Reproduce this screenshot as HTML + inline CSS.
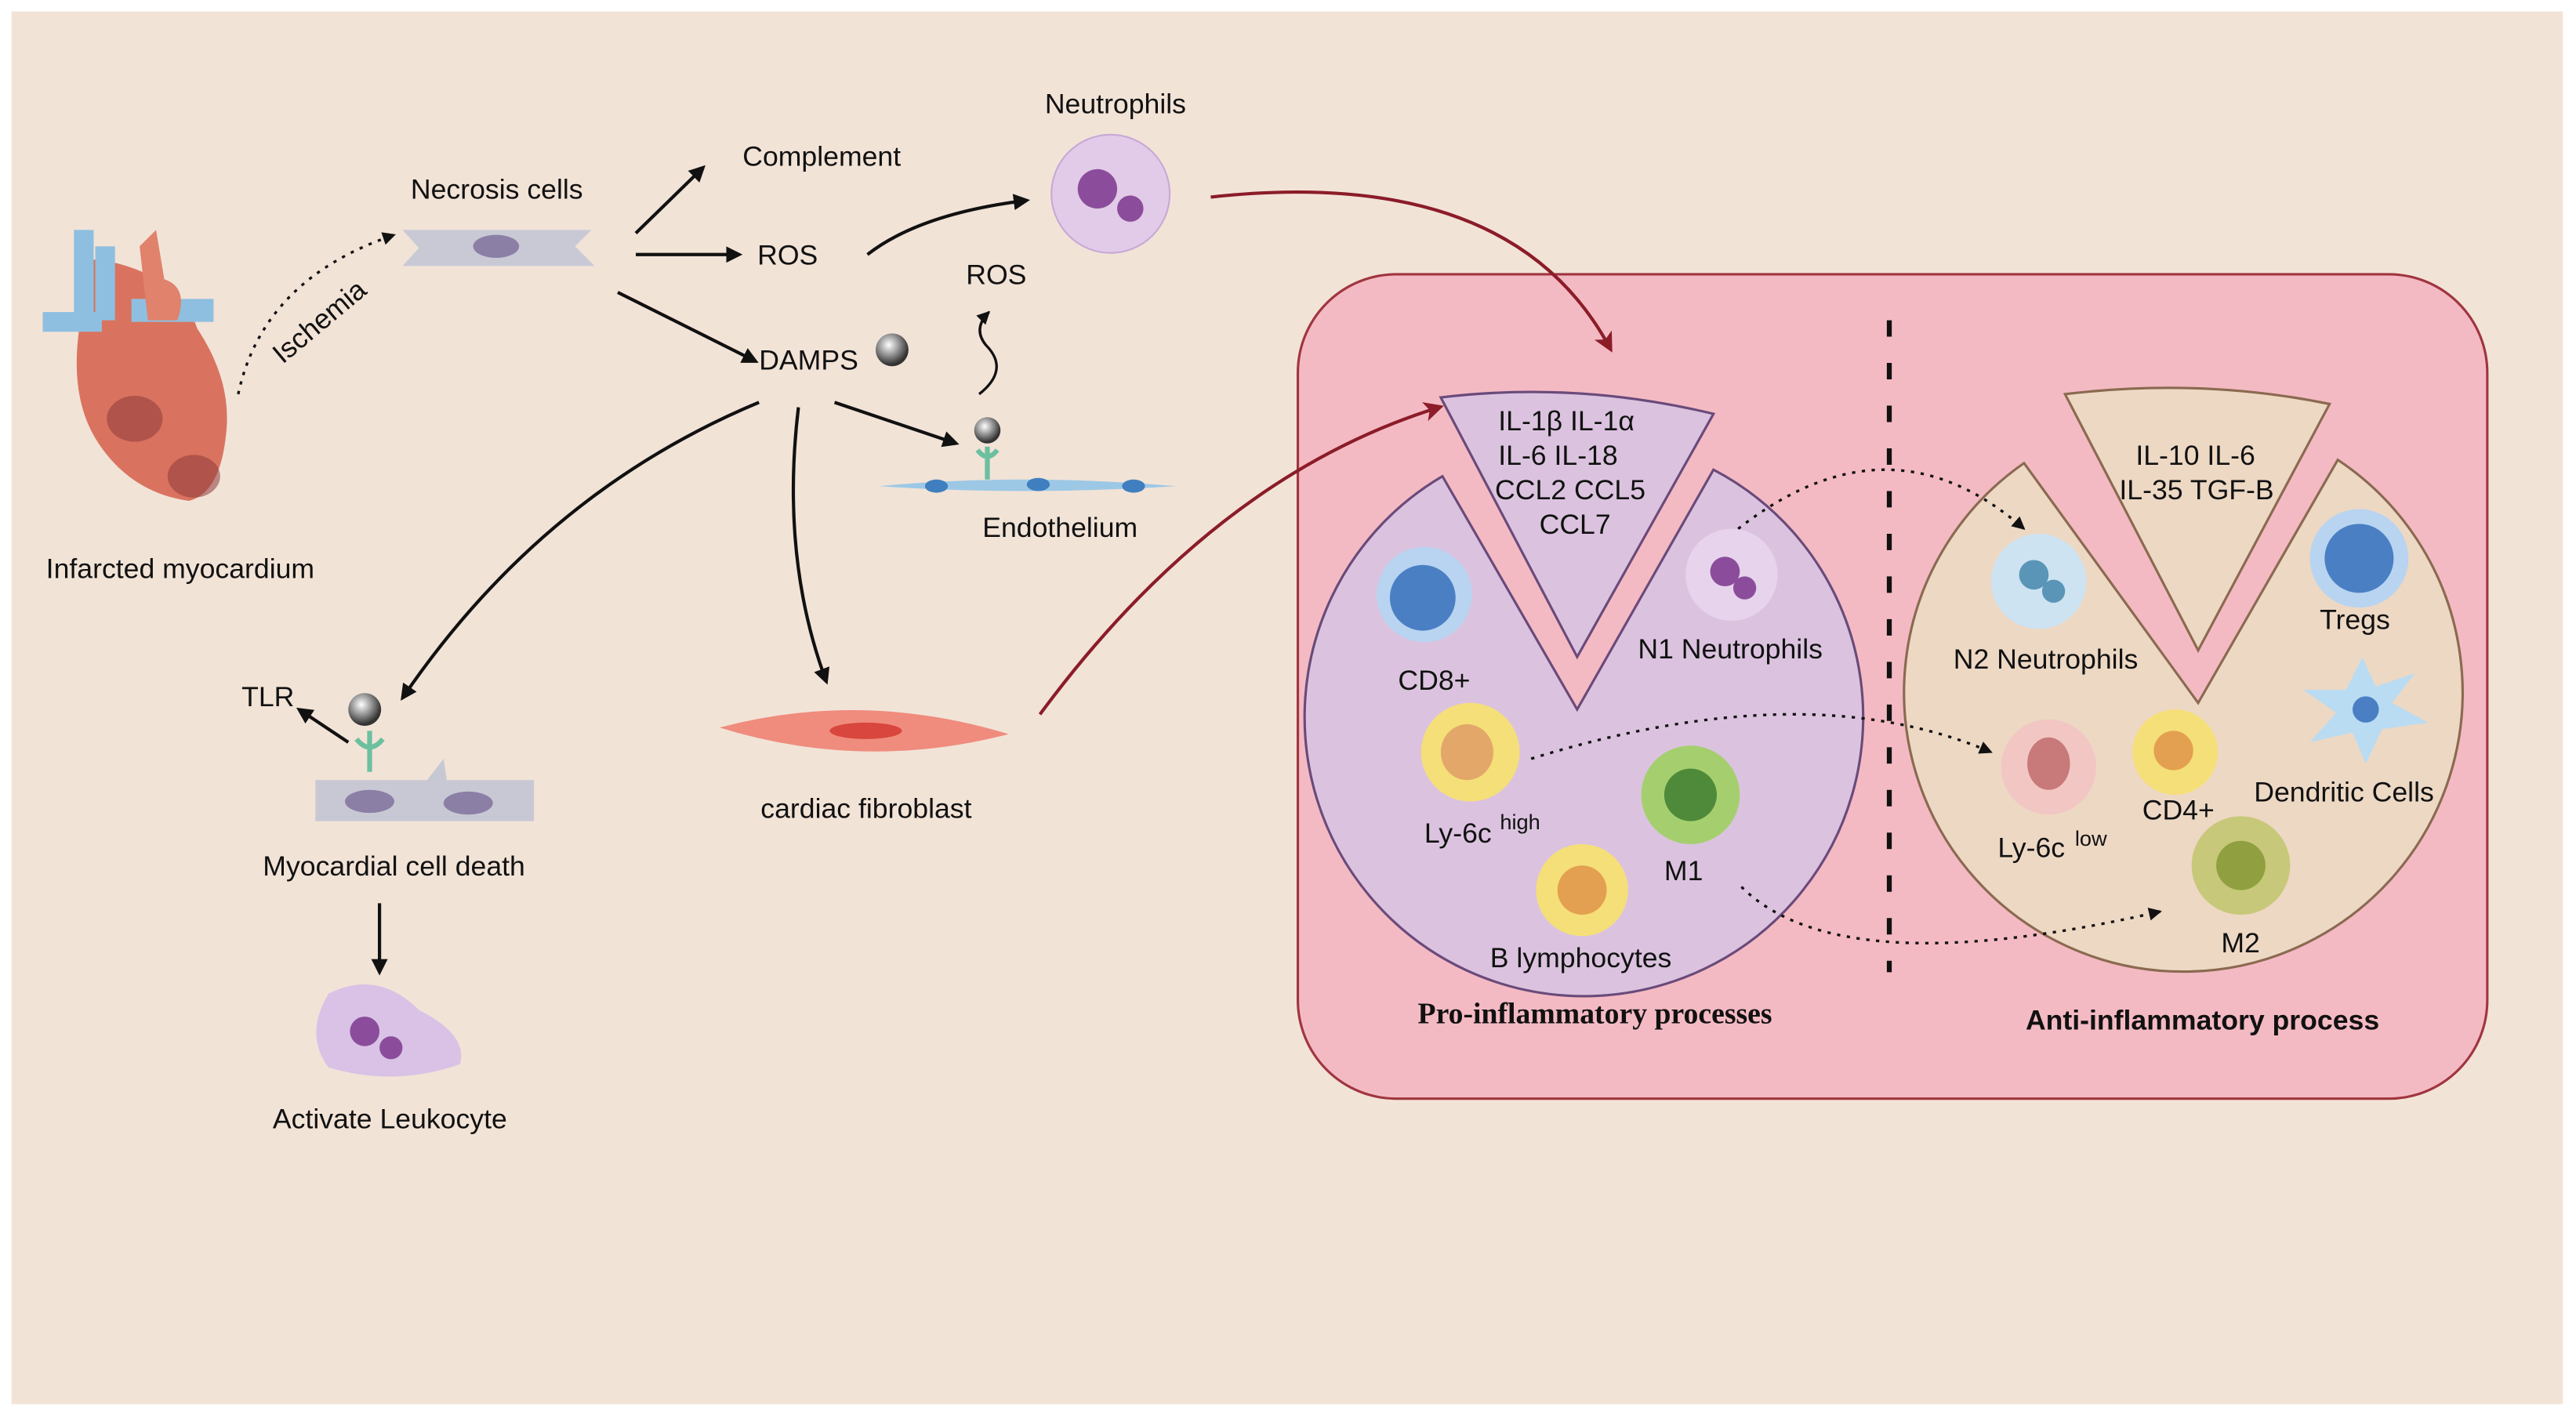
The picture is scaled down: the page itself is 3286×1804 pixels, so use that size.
<!DOCTYPE html>
<html><head><meta charset="utf-8"><style>
html,body{margin:0;padding:0;background:#fff}
svg{display:block}
text{font-family:"Liberation Sans",sans-serif;fill:#111}
.s{font-size:17px}
.b{font-family:"Liberation Serif",serif;font-weight:bold;font-size:18px}
</style></head><body>
<svg width="3286" height="1804" viewBox="0 0 1568 861" preserveAspectRatio="none" xmlns="http://www.w3.org/2000/svg">
<defs>
<marker id="a" markerWidth="10" markerHeight="10" refX="8" refY="5" orient="auto" markerUnits="userSpaceOnUse"><path d="M0,0 L10,5 L0,10 z" fill="#111"/></marker>
<marker id="r" markerWidth="12" markerHeight="12" refX="9" refY="6" orient="auto" markerUnits="userSpaceOnUse"><path d="M0,0 L12,6 L0,12 L3,6 z" fill="#8b1c28"/></marker>
<marker id="d" markerWidth="8" markerHeight="8" refX="7" refY="4" orient="auto" markerUnits="userSpaceOnUse"><path d="M0,0 L8,4 L0,8 z" fill="#111"/></marker>
<radialGradient id="ball" cx="0.4" cy="0.35" r="0.6"><stop offset="0" stop-color="#fff"/><stop offset="0.5" stop-color="#999"/><stop offset="1" stop-color="#333"/></radialGradient>
</defs>
<rect width="1568" height="861" fill="#fff"/>
<rect x="7" y="7" width="1553" height="848" fill="#f2e3d7"/>

<!-- left flow -->
<g>
<path d="M50,190 Q40,150 70,160 Q110,170 120,200 Q140,230 138,260 Q135,300 115,305 Q80,300 60,270 Q40,240 50,190 Z" fill="#d9735f"/>
<rect x="45" y="140" width="12" height="60" fill="#8fbfe0"/><rect x="58" y="150" width="12" height="45" fill="#8fbfe0"/>
<rect x="26" y="190" width="36" height="12" fill="#8fbfe0"/><rect x="80" y="182" width="50" height="14" fill="#8fbfe0"/>
<path d="M85,150 L95,140 L100,170 Q115,175 108,195 L90,195 Z" fill="#e0826c"/>
<ellipse cx="82" cy="255" rx="17" ry="14" fill="#8e3a3a" opacity="0.55"/><ellipse cx="118" cy="290" rx="16" ry="13" fill="#8e3a3a" opacity="0.55"/>
<text x="28" y="352" class="s">Infarcted myocardium</text>
<path d="M145,240 Q160,170 240,143" fill="none" stroke="#111" stroke-dasharray="2,4" stroke-width="1.6" marker-end="url(#d)"/>
<text x="0" y="0" class="s" transform="translate(172,222) rotate(-40)">Ischemia</text>
<text x="250" y="121" class="s">Necrosis cells</text>
<path d="M245,140 L360,140 L350,150 L362,162 L245,162 L255,151 Z" fill="#c9c9d6"/>
<ellipse cx="302" cy="150" rx="14" ry="7" fill="#8c7fa6"/>
<line x1="387" y1="142" x2="428" y2="102" stroke="#111" stroke-width="2" marker-end="url(#a)"/>
<line x1="387" y1="155" x2="450" y2="155" stroke="#111" stroke-width="2" marker-end="url(#a)"/>
<line x1="376" y1="178" x2="460" y2="220" stroke="#111" stroke-width="2" marker-end="url(#a)"/>
<text x="452" y="101" class="s">Complement</text>
<text x="461" y="161" class="s">ROS</text>
<text x="462" y="225" class="s">DAMPS</text>
<circle cx="543" cy="213" r="10" fill="url(#ball)"/>
<path d="M528,155 Q560,130 625,122" fill="none" stroke="#111" stroke-width="2" marker-end="url(#a)"/>
<text x="636" y="69" class="s">Neutrophils</text>
<circle cx="676" cy="118" r="36" fill="#e2cbe8" stroke="#c8a8d6"/>
<circle cx="668" cy="115" r="12" fill="#8b4d9b"/><circle cx="688" cy="127" r="8" fill="#8b4d9b"/>
<text x="588" y="173" class="s">ROS</text>
<path d="M596,240 Q615,225 600,210 Q592,200 602,190" fill="none" stroke="#111" stroke-width="1.6" marker-end="url(#d)"/>
<line x1="508" y1="245" x2="582" y2="270" stroke="#111" stroke-width="2" marker-end="url(#a)"/>
<circle cx="601" cy="262" r="8" fill="url(#ball)"/>
<path d="M601,272 L601,292 M595,274 Q601,282 607,274" stroke="#6cc0a0" stroke-width="3" fill="none"/>
<path d="M535,296 Q620,288 716,296 Q620,302 535,296 Z" fill="#9cc8e6"/>
<ellipse cx="570" cy="296" rx="7" ry="4" fill="#3f7fbf"/><ellipse cx="632" cy="295" rx="7" ry="4" fill="#3f7fbf"/><ellipse cx="690" cy="296" rx="7" ry="4" fill="#3f7fbf"/>
<text x="598" y="327" class="s">Endothelium</text>
<path d="M462,245 Q330,300 245,425" fill="none" stroke="#111" stroke-width="2" marker-end="url(#a)"/>
<path d="M486,248 Q475,340 503,415" fill="none" stroke="#111" stroke-width="2" marker-end="url(#a)"/>
<path d="M438,443 Q525,420 614,447 Q525,470 438,443 Z" fill="#ef8c7d"/>
<ellipse cx="527" cy="445" rx="22" ry="5" fill="#d8463e"/>
<text x="463" y="498" class="s">cardiac fibroblast</text>
<text x="147" y="430" class="s">TLR</text>
<line x1="212" y1="452" x2="182" y2="432" stroke="#111" stroke-width="2" marker-end="url(#a)"/>
<circle cx="222" cy="432" r="10" fill="url(#ball)"/>
<path d="M225,445 L225,470 M217,450 Q225,460 233,450" stroke="#6cc0a0" stroke-width="3" fill="none"/>
<path d="M192,475 L260,475 L270,462 L272,475 L325,475 L325,500 L192,500 Z" fill="#c8c8d4"/>
<ellipse cx="225" cy="488" rx="15" ry="7" fill="#8c7fa6"/><ellipse cx="285" cy="489" rx="15" ry="7" fill="#8c7fa6"/>
<text x="160" y="533" class="s">Myocardial cell death</text>
<line x1="231" y1="550" x2="231" y2="592" stroke="#111" stroke-width="2" marker-end="url(#a)"/>
<path d="M200,605 Q230,590 255,615 Q285,630 280,648 Q240,662 200,650 Q185,630 200,605 Z" fill="#d9c2e6"/>
<circle cx="222" cy="628" r="9" fill="#8b4d9b"/><circle cx="238" cy="638" r="7" fill="#8b4d9b"/>
<text x="166" y="687" class="s">Activate Leukocyte</text>
</g>

<!-- big panel -->
<rect x="790" y="167" width="724" height="502" rx="60" fill="#f4bac3" stroke="#a0353f" stroke-width="1.5"/>
<path d="M737,120 Q920,100 980,212" fill="none" stroke="#8b1c28" stroke-width="2" marker-end="url(#r)"/>
<path d="M633,435 Q740,290 876,248" fill="none" stroke="#8b1c28" stroke-width="2" marker-end="url(#r)"/>
<line x1="1150" y1="195" x2="1150" y2="592" stroke="#111" stroke-width="3" stroke-dasharray="10,16"/>

<!-- left pie -->
<path d="M878,290 L960,432 L1043,286 A170,170 0 1 1 878,290 Z" fill="#dbc3df" stroke="#6a4a7a" stroke-width="1.5"/>
<path d="M877,242 Q960,232 1043,252 L960,400 Z" fill="#dbc3df" stroke="#6a4a7a" stroke-width="1.5"/>
<text x="912" y="262" class="s">IL-1β  IL-1α</text>
<text x="912" y="283" class="s">IL-6    IL-18</text>
<text x="910" y="304" class="s">CCL2  CCL5</text>
<text x="937" y="325" class="s">CCL7</text>
<circle cx="867" cy="362" r="29" fill="#b8d4f0"/><circle cx="866" cy="364" r="20" fill="#4a7fc4"/>
<text x="851" y="420" class="s">CD8+</text>
<circle cx="1054" cy="350" r="28" fill="#e7d4ec"/><circle cx="1050" cy="348" r="9" fill="#8b4d9b"/><circle cx="1062" cy="358" r="7" fill="#8b4d9b"/>
<text x="997" y="401" class="s">N1 Neutrophils</text>
<circle cx="895" cy="458" r="30" fill="#f5df78"/><ellipse cx="893" cy="458" rx="16" ry="17" fill="#e3a76a"/>
<text x="867" y="513" class="s">Ly-6c</text><text x="913" y="505" style="font-size:13px">high</text>
<circle cx="1029" cy="484" r="30" fill="#a5cf6e"/><circle cx="1029" cy="484" r="16" fill="#4f8a3a"/>
<text x="1013" y="536" class="s">M1</text>
<circle cx="963" cy="542" r="28" fill="#f5df78"/><circle cx="963" cy="542" r="15" fill="#e3a050"/>
<text x="907" y="589" class="s">B lymphocytes</text>
<text x="863" y="623" class="b">Pro-inflammatory processes</text>

<!-- right pie -->
<path d="M1232,282 L1338,428 L1423,280 A170,170 0 1 1 1232,282 Z" fill="#edd8c4" stroke="#8a6a50" stroke-width="1.5"/>
<path d="M1257,240 Q1340,230 1418,246 L1338,396 Z" fill="#edd8c4" stroke="#8a6a50" stroke-width="1.5"/>
<text x="1300" y="283" class="s">IL-10 IL-6</text>
<text x="1290" y="304" class="s">IL-35 TGF-B</text>
<circle cx="1241" cy="354" r="29" fill="#cde3f2"/><circle cx="1238" cy="350" r="9" fill="#5a95b8"/><circle cx="1250" cy="360" r="7" fill="#5a95b8"/>
<text x="1189" y="407" class="s">N2 Neutrophils</text>
<circle cx="1436" cy="340" r="30" fill="#b8d4f0"/><circle cx="1436" cy="340" r="21" fill="#4a7fc4"/>
<text x="1412" y="383" class="s">Tregs</text>
<path d="M1438,400 L1446,418 L1470,410 L1456,428 L1478,440 L1450,444 L1440,465 L1432,446 L1406,452 L1422,434 L1402,420 L1428,420 Z" fill="#b9dcf2"/>
<circle cx="1440" cy="432" r="8" fill="#4a7fc4"/>
<text x="1372" y="488" class="s">Dendritic Cells</text>
<circle cx="1247" cy="467" r="29" fill="#f2c7c3"/><ellipse cx="1247" cy="465" rx="13" ry="16" fill="#c87979"/>
<text x="1216" y="522" class="s">Ly-6c</text><text x="1263" y="515" style="font-size:13px">low</text>
<circle cx="1324" cy="458" r="26" fill="#f5df78"/><circle cx="1323" cy="457" r="12" fill="#e3a050"/>
<text x="1304" y="499" class="s">CD4+</text>
<circle cx="1364" cy="527" r="30" fill="#c8c87a"/><circle cx="1364" cy="527" r="15" fill="#90a040"/>
<text x="1352" y="580" class="s">M2</text>
<text x="1233" y="627" class="b" style="font-family:'Liberation Sans',sans-serif;font-size:17px">Anti-inflammatory process</text>

<!-- dotted transitions -->
<path d="M1058,322 Q1150,250 1232,322" fill="none" stroke="#111" stroke-width="1.6" stroke-dasharray="2,4" marker-end="url(#d)"/>
<path d="M932,462 Q1100,410 1212,458" fill="none" stroke="#111" stroke-width="1.6" stroke-dasharray="2,4" marker-end="url(#d)"/>
<path d="M1060,540 Q1120,600 1315,555" fill="none" stroke="#111" stroke-width="1.6" stroke-dasharray="2,4" marker-end="url(#d)"/>
</svg>
</body></html>
